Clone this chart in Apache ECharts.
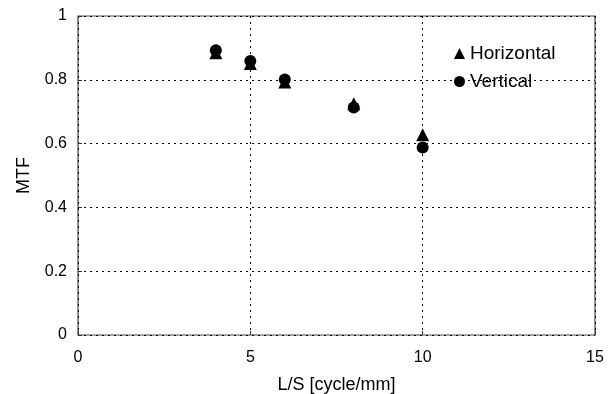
<!DOCTYPE html>
<html>
<head>
<meta charset="UTF-8">
<title>MTF</title>
<style>
  html, body { margin: 0; padding: 0; background: #fff; }
  #main { width: 612px; height: 394px; }
</style>
</head>
<body>
<div id="main"></div>
<script src="https://cdn.jsdelivr.net/npm/echarts@6/dist/echarts.min.js"></script>
<script>
var freqs = [4, 5, 6, 8, 10];
var horizontal = [0.885, 0.851, 0.793, 0.725, 0.628];
var vertical = [0.893, 0.859, 0.801, 0.713, 0.588];

function pairs(xs, ys) {
  return xs.map(function (x, i) { return [x, ys[i]]; });
}

var font = 'Liberation Sans, Arial, sans-serif';
var myChart = echarts.init(document.getElementById('main'));

myChart.setOption({
  animation: false,
  textStyle: { fontFamily: font, color: '#000' },
  grid: {
    left: 78, right: 17, top: 16, bottom: 59,
    outerBoundsMode: 'none',
    containLabel: false,
    show: true, borderColor: '#444', borderWidth: 1.2
  },
  legend: {
    orient: 'vertical',
    left: 454,
    top: 44,
    padding: 0,
    itemGap: 9,
    itemWidth: 11,
    itemHeight: 11,
    textStyle: { fontFamily: font, fontSize: 19, color: '#000' },
    data: [
      { name: 'Horizontal', icon: 'triangle' },
      { name: 'Vertical', icon: 'circle' }
    ]
  },
  xAxis: {
    type: 'value',
    min: 0, max: 15, interval: 5,
    name: 'L/S [cycle/mm]',
    nameLocation: 'middle',
    nameGap: 41,
    nameTextStyle: { fontSize: 18, color: '#000' },
    axisLine: { show: false },
    axisTick: { show: true, inside: true, length: 4, lineStyle: { color: '#333' } },
    axisLabel: { fontSize: 16, color: '#000', margin: 15 },
    splitLine: { show: true, lineStyle: { color: '#000', type: [2, 4], width: 1 } }
  },
  yAxis: {
    type: 'value',
    min: 0, max: 1, interval: 0.2,
    name: 'MTF',
    nameLocation: 'middle',
    nameGap: 45,
    nameTextStyle: { fontSize: 18, color: '#000' },
    axisLine: { show: false },
    axisTick: { show: true, inside: true, length: 4, lineStyle: { color: '#333' } },
    axisLabel: { fontSize: 16, color: '#000', margin: 11 },
    splitLine: { show: true, lineStyle: { color: '#000', type: [2, 4], width: 1 } }
  },
  series: [
    {
      name: 'Horizontal',
      type: 'scatter',
      symbol: 'triangle',
      symbolSize: 13,
      itemStyle: { color: '#000', opacity: 1 },
      data: pairs(freqs, horizontal)
    },
    {
      name: 'Vertical',
      type: 'scatter',
      symbol: 'circle',
      symbolSize: 12,
      itemStyle: { color: '#000', opacity: 1 },
      data: pairs(freqs, vertical)
    }
  ]
});
</script>
</body>
</html>
